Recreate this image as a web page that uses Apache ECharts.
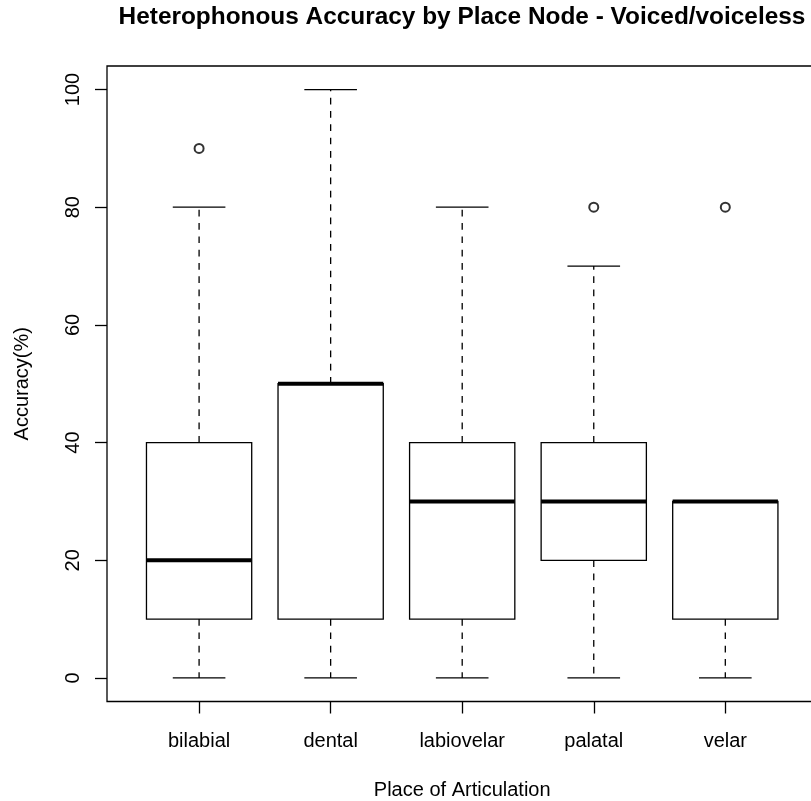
<!DOCTYPE html>
<html>
<head>
<meta charset="utf-8">
<script src="https://cdn.jsdelivr.net/npm/echarts@6/dist/echarts.min.js"></script>
<style>html,body{margin:0;padding:0;background:#fff;}#c{width:811px;height:801px;}</style>
</head>
<body>
<div id="c"></div>
<script>
// ---- data ----
const categories = ['bilabial', 'dental', 'labiovelar', 'palatal', 'velar'];
const whiskerLow  = [0, 0, 0, 0, 0];
const boxLow      = [10, 10, 10, 20, 10];
const medians     = [20, 50, 30, 30, 30];
const boxHigh     = [40, 50, 40, 40, 30];
const whiskerHigh = [80, 100, 80, 70, 30];
const outlierCategory = ['bilabial', 'palatal', 'velar'];
const outlierValue    = [90, 80, 80];
const yTicks = [0, 20, 40, 60, 80, 100];
const titleText = 'Heterophonous Accuracy by Place Node - Voiced/voiceless';
const xTitle = 'Place of Articulation';
const yTitle = 'Accuracy(%)';

const FONT = '"Liberation Sans", Arial, Helvetica, sans-serif';
const xPositions = categories.map((c, i) => i + 1);

const boxData = categories.map((c, i) => [i + 1, whiskerLow[i], boxLow[i], medians[i], boxHigh[i], whiskerHigh[i]]);
const outlierData = outlierCategory.map((c, i) => [categories.indexOf(c) + 1, outlierValue[i]]);

const LW = 1.3;
function renderBox(params, api) {
  const x = api.value(0);
  const lo = api.value(1), q1 = api.value(2), med = api.value(3), q3 = api.value(4), hi = api.value(5);
  const half = 0.4, cap = 0.2;
  const P = (vx, vy) => api.coord([vx, vy]);
  const lineStyle = {stroke: '#000', lineWidth: LW, fill: null};
  const dash = {stroke: '#000', lineWidth: LW, lineDash: [6.7, 6.6], fill: null};
  const children = [];
  const a = P(x, q1), b = P(x, lo);
  children.push({type: 'line', shape: {x1: a[0], y1: a[1], x2: b[0], y2: b[1]}, style: dash});
  if (hi > q3) {
    const c = P(x, q3), d = P(x, hi);
    children.push({type: 'line', shape: {x1: c[0], y1: c[1], x2: d[0], y2: d[1]}, style: dash});
  }
  let l = P(x - cap, lo), r = P(x + cap, lo);
  children.push({type: 'line', shape: {x1: l[0], y1: l[1], x2: r[0], y2: r[1]}, style: lineStyle});
  l = P(x - cap, hi); r = P(x + cap, hi);
  children.push({type: 'line', shape: {x1: l[0], y1: l[1], x2: r[0], y2: r[1]}, style: lineStyle});
  const tl = P(x - half, q3), br = P(x + half, q1);
  children.push({type: 'rect', shape: {x: tl[0], y: tl[1], width: br[0] - tl[0], height: br[1] - tl[1]}, style: lineStyle});
  l = P(x - half, med); r = P(x + half, med);
  children.push({type: 'line', shape: {x1: l[0], y1: l[1], x2: r[0], y2: r[1]}, style: {stroke: '#000', lineWidth: 4, fill: null}});
  return {type: 'group', children: children};
}

const chart = echarts.init(document.getElementById('c'), null, {renderer: 'canvas'});
chart.setOption({
  animation: false,
  backgroundColor: '#fff',
  title: {
    text: titleText,
    left: 462, top: 5, padding: 0,
    textAlign: 'center',
    textStyle: {fontFamily: FONT, fontSize: 24.4, fontWeight: 'bold', color: '#000'}
  },
  grid: {
    left: 107, top: 66, width: 710.4, height: 635.5,
    show: true, borderColor: '#000', borderWidth: LW, backgroundColor: 'transparent',
    containLabel: false, outerBoundsMode: 'none'
  },
  xAxis: {
    type: 'value', min: 0.3, max: 5.7,
    name: xTitle, nameLocation: 'middle', nameGap: 79,
    nameTextStyle: {fontFamily: FONT, fontSize: 20, color: '#000'},
    axisLine: {show: false, onZero: false},
    axisTick: {show: true, inside: false, length: 12, customValues: xPositions, lineStyle: {color: '#000', width: LW}},
    axisLabel: {show: true, margin: 30, customValues: xPositions, fontFamily: FONT, fontSize: 20, color: '#000',
      formatter: v => categories[Math.round(v) - 1] || ''},
    splitLine: {show: false}
  },
  yAxis: {
    type: 'value', min: -4, max: 104,
    name: yTitle, nameLocation: 'middle', nameGap: 75,
    nameTextStyle: {fontFamily: FONT, fontSize: 20, color: '#000'},
    axisLine: {show: false, onZero: false},
    axisTick: {show: true, inside: false, length: 12, customValues: yTicks, lineStyle: {color: '#000', width: LW}},
    axisLabel: {show: true, rotate: 90, margin: 24, customValues: yTicks, fontFamily: FONT, fontSize: 20, color: '#000'},
    splitLine: {show: false}
  },
  series: [
    {type: 'custom', renderItem: renderBox, data: boxData, silent: true, clip: false},
    {type: 'scatter', data: outlierData, symbol: 'emptyCircle', symbolSize: 9, silent: true,
      itemStyle: {color: '#000', borderColor: '#000', borderWidth: 1}}
  ]
});
</script>
</body>
</html>
